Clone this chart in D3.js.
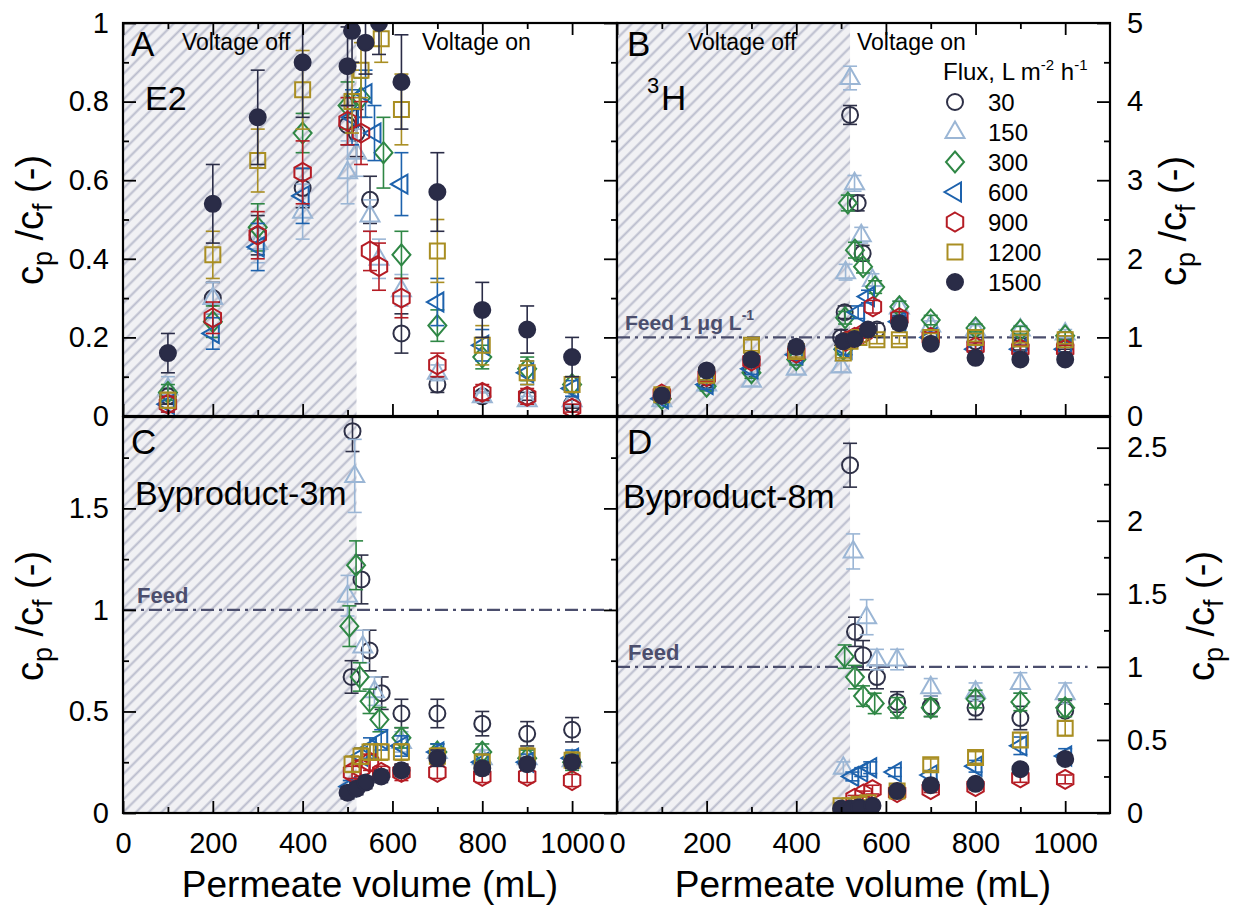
<!DOCTYPE html>
<html>
<head>
<meta charset="utf-8">
<script src="https://cdn.jsdelivr.net/npm/d3@7"></script>
<style>
body { margin: 0; background: #fff; }
text { font-family: "Liberation Sans", Arial, sans-serif; }
</style>
</head>
<body>
<div id="chart"></div>
<script>
// flux series, L m-2 h-1
var fluxLabels = ["30", "150", "300", "600", "900", "1200", "1500"];
var seriesColors = ["#2e3047", "#9bb6d5", "#2f8745", "#1d62ad", "#b51c24", "#a98e22", "#2a2c47"];
var seriesShapes = ["circle", "triangle", "diamond", "left", "hexagon", "square", "filled"];

// [permeate volume mL, cp/cf, error]
// A: E2
var a30 = [[100,0.05,0.02],[200,0.30,0.04],[300,0.46,0.05],[400,0.58,0.05],[500,0.74,0.05],[520,0.72,0.06],[550,0.55,0.06],[620,0.21,0.05],[700,0.08,0.02],[800,0.05,0.01],[900,0.05,0.01],[1000,0.03,0.01]];
var a150 = [[100,0.07,0.03],[200,0.30,0.04],[300,0.44,0.05],[400,0.52,0.07],[500,0.62,0.08],[520,0.67,0.06],[550,0.51,0.04],[570,0.40,0.05],[620,0.32,0.04],[700,0.11,0.02],[800,0.05,0.01],[900,0.04,0.01],[1000,0.04,0.01]];
var a300 = [[100,0.06,0.02],[200,0.24,0.04],[300,0.48,0.06],[400,0.72,0.05],[500,0.79,0.06],[530,0.81,0.05],[580,0.67,0.09],[620,0.41,0.06],[700,0.23,0.04],[800,0.15,0.03],[900,0.12,0.03],[1000,0.08,0.02]];
var a600 = [[100,0.03,0.02],[200,0.21,0.04],[300,0.43,0.06],[400,0.56,0.07],[510,0.76,0.07],[540,0.82,0.06],[560,0.72,0.07],[620,0.59,0.08],[700,0.29,0.06],[800,0.18,0.04],[900,0.11,0.03],[1000,0.07,0.02]];
var a900 = [[100,0.03,0.02],[200,0.25,0.04],[300,0.46,0.06],[400,0.62,0.08],[500,0.75,0.06],[530,0.72,0.08],[550,0.42,0.05],[570,0.38,0.06],[620,0.30,0.05],[700,0.13,0.03],[800,0.06,0.02],[900,0.05,0.02],[1000,0.02,0.01]];
var a1200 = [[100,0.04,0.02],[200,0.41,0.06],[300,0.65,0.08],[400,0.83,0.10],[510,0.80,0.08],[530,0.88,0.07],[575,0.96,0.06],[620,0.78,0.09],[700,0.42,0.08],[800,0.18,0.05],[900,0.11,0.03],[1000,0.08,0.02]];
var a1500 = [[100,0.16,0.05],[200,0.54,0.10],[300,0.76,0.12],[400,0.90,0.14],[500,0.89,0.10],[510,0.98,0.08],[540,0.95,0.08],[570,1.00,0.08],[620,0.85,0.12],[700,0.57,0.10],[800,0.27,0.07],[900,0.22,0.06],[1000,0.15,0.05]];

// B: 3H
var b30 = [[100,0.25,0.05],[200,0.45,0.06],[300,0.60,0.08],[400,0.75,0.08],[500,1.00,0.10],[508,1.32,0.08],[520,3.83,0.12],[537,2.71,0.10],[548,2.07,0.10],[580,1.10,0.08],[630,1.20,0.08],[700,1.00,0.06],[800,0.95,0.05],[900,0.90,0.06],[1000,0.90,0.05]];
var b150 = [[100,0.20,0.05],[200,0.40,0.06],[300,0.45,0.07],[400,0.60,0.07],[500,0.63,0.07],[510,1.83,0.10],[520,4.30,0.15],[530,2.96,0.10],[545,2.30,0.10],[570,1.73,0.08],[630,1.38,0.08],[700,1.15,0.06],[800,1.10,0.05],[900,1.10,0.05],[1000,1.05,0.05]];
var b300 = [[100,0.22,0.05],[200,0.38,0.06],[300,0.55,0.07],[400,0.72,0.07],[505,0.85,0.07],[509,1.25,0.08],[515,2.71,0.10],[531,2.11,0.10],[549,1.90,0.08],[576,1.64,0.08],[630,1.39,0.07],[700,1.22,0.06],[800,1.12,0.05],[900,1.09,0.05],[1000,1.02,0.05]];
var b600 = [[100,0.22,0.05],[200,0.40,0.06],[300,0.60,0.07],[400,0.78,0.07],[510,0.85,0.07],[538,1.32,0.08],[560,1.52,0.08],[630,1.20,0.07],[700,1.00,0.06],[800,0.85,0.05],[900,0.85,0.05],[1000,0.85,0.05]];
var b900 = [[100,0.28,0.05],[200,0.50,0.06],[300,0.70,0.07],[400,0.80,0.07],[510,0.95,0.07],[530,1.00,0.06],[550,1.05,0.06],[571,1.39,0.08],[630,1.25,0.08],[700,1.00,0.06],[800,0.88,0.05],[900,0.85,0.05],[1000,0.85,0.05]];
var b1200 = [[100,0.27,0.05],[200,0.52,0.06],[300,0.90,0.07],[400,0.82,0.07],[505,0.80,0.06],[520,0.95,0.06],[540,1.00,0.06],[580,0.97,0.05],[630,0.97,0.05],[700,1.00,0.05],[800,1.00,0.05],[900,0.98,0.05],[1000,0.97,0.05]];
var b1500 = [[100,0.26,0.05],[200,0.58,0.06],[300,0.72,0.07],[400,0.88,0.07],[505,0.95,0.07],[530,0.98,0.06],[560,1.10,0.06],[630,1.18,0.07],[700,0.92,0.06],[800,0.74,0.05],[900,0.72,0.05],[1000,0.72,0.05]];

// C: Byproduct-3m
var c30 = [[509,0.67,0.08],[511,1.88,0.10],[531,1.15,0.12],[549,0.80,0.10],[576,0.59,0.08],[620,0.49,0.07],[700,0.49,0.07],[800,0.44,0.06],[900,0.39,0.06],[1000,0.41,0.06]];
var c150 = [[500,1.07,0.10],[516,1.66,0.18],[534,0.82,0.08],[560,0.60,0.07],[620,0.35,0.05],[700,0.30,0.04],[800,0.27,0.04],[900,0.27,0.04],[1000,0.26,0.04]];
var c300 = [[504,0.92,0.10],[519,1.22,0.12],[527,0.67,0.07],[549,0.55,0.06],[571,0.46,0.06],[620,0.37,0.05],[700,0.30,0.04],[800,0.30,0.04],[900,0.27,0.04],[1000,0.25,0.04]];
var c600 = [[505,0.13,0.03],[530,0.28,0.04],[550,0.32,0.05],[575,0.36,0.05],[620,0.33,0.05],[700,0.30,0.04],[800,0.25,0.04],[900,0.25,0.04],[1000,0.27,0.04]];
var c900 = [[510,0.20,0.03],[530,0.22,0.04],[550,0.25,0.04],[575,0.20,0.03],[620,0.20,0.04],[700,0.20,0.03],[800,0.18,0.03],[900,0.18,0.03],[1000,0.16,0.03]];
var c1200 = [[510,0.24,0.04],[530,0.28,0.04],[550,0.30,0.04],[575,0.30,0.04],[620,0.30,0.04],[700,0.28,0.04],[800,0.25,0.04],[900,0.28,0.04],[1000,0.26,0.04]];
var c1500 = [[500,0.10,0.03],[520,0.12,0.03],[540,0.15,0.03],[575,0.18,0.03],[620,0.21,0.03],[700,0.27,0.04],[800,0.22,0.03],[900,0.24,0.03],[1000,0.25,0.03]];

// D: Byproduct-8m
var d30 = [[520,2.38,0.15],[531,1.24,0.10],[549,1.08,0.10],[580,0.93,0.08],[625,0.76,0.07],[700,0.73,0.07],[800,0.72,0.08],[900,0.65,0.08],[1000,0.70,0.07]];
var d150 = [[505,0.31,0.04],[527,1.79,0.12],[557,1.34,0.12],[580,1.05,0.07],[625,1.05,0.07],[700,0.86,0.06],[800,0.83,0.06],[900,0.89,0.07],[1000,0.82,0.07]];
var d300 = [[508,1.07,0.08],[531,0.93,0.08],[549,0.80,0.07],[575,0.75,0.07],[625,0.72,0.07],[700,0.72,0.06],[800,0.78,0.06],[900,0.76,0.06],[1000,0.72,0.06]];
var d600 = [[525,0.25,0.03],[545,0.28,0.03],[565,0.31,0.04],[620,0.28,0.03],[700,0.26,0.03],[800,0.32,0.04],[900,0.46,0.06],[1000,0.39,0.05]];
var d900 = [[530,0.10,0.02],[550,0.13,0.02],[570,0.16,0.03],[625,0.14,0.02],[700,0.16,0.02],[800,0.18,0.02],[900,0.24,0.03],[1000,0.23,0.03]];
var d1200 = [[500,0.05,0.02],[520,0.05,0.02],[540,0.06,0.02],[560,0.07,0.02],[625,0.15,0.02],[700,0.33,0.04],[800,0.38,0.04],[900,0.50,0.05],[1000,0.58,0.05]];
var d1500 = [[500,0.03,0.01],[520,0.03,0.01],[540,0.04,0.01],[570,0.05,0.01],[625,0.15,0.02],[700,0.19,0.02],[800,0.20,0.02],[900,0.30,0.03],[1000,0.37,0.03]];

// axes
var xDomain = [0, 1100];
var xMajor = [0, 200, 400, 600, 800, 1000];
var xMinor = [100, 300, 500, 700, 900];
var yTicksA = [0, 0.2, 0.4, 0.6, 0.8, 1];
var yMinorA = [0.1, 0.3, 0.5, 0.7, 0.9];
var yTicksB = [0, 1, 2, 3, 4, 5];
var yMinorB = [0.5, 1.5, 2.5, 3.5, 4.5];
var yTicksC = [0, 0.5, 1, 1.5];
var yMinorC = [0.25, 0.75, 1.25, 1.75];
var yTicksD = [0, 0.5, 1, 1.5, 2, 2.5];
var yMinorD = [0.25, 0.75, 1.25, 1.75, 2.25];
var voltageOff = 520;

var width = 1234, height = 911;
var svg = d3.select("#chart").append("svg")
    .attr("width", width)
    .attr("height", height);

var defs = svg.append("defs");
var pat = defs.append("pattern")
    .attr("id", "hatch")
    .attr("patternUnits", "userSpaceOnUse")
    .attr("width", 9).attr("height", 9)
    .attr("patternTransform", "rotate(45)");
pat.append("rect").attr("width", 9).attr("height", 9).attr("fill", "#f1f1f4");
pat.append("line").attr("x1", 4.5).attr("x2", 4.5).attr("y1", 0).attr("y2", 9)
    .attr("stroke", "#b9bccc").attr("stroke-width", 2);

function shapePath(s) {
    if (s === "circle" || s === "filled") return d3.symbol(d3.symbolCircle, 201)();
    if (s === "triangle") return "M0,-10.5L9.5,6L-9.5,6Z";
    if (s === "diamond") return "M0,-10.5L9,0L0,10.5L-9,0Z";
    if (s === "left") return "M-10.5,0L6,-9.5L6,9.5Z";
    if (s === "square") return "M-7.5,-7.5H7.5V7.5H-7.5Z";
    var pts = d3.range(6).map(function(k) {
        var a = (-90 + 60 * k) * Math.PI / 180;
        return [9.5 * Math.cos(a), 9.5 * Math.sin(a)];
    });
    return "M" + pts.join("L") + "Z";
}

var panels = [
    {id: "A", data: [a30, a150, a300, a600, a900, a1200, a1500], yDomain: [0, 1], major: yTicksA, minor: yMinorA, left: true, top: true, box: [123, 617, 23, 416]},
    {id: "B", data: [b30, b150, b300, b600, b900, b1200, b1500], yDomain: [0, 5], major: yTicksB, minor: yMinorB, left: false, top: true, box: [617, 1110, 23, 416], feed: [1, 1040]},
    {id: "C", data: [c30, c150, c300, c600, c900, c1200, c1500], yDomain: [0, 1.95], major: yTicksC, minor: yMinorC, left: true, top: false, box: [123, 617, 417, 813], feed: [1, 1100]},
    {id: "D", data: [d30, d150, d300, d600, d900, d1200, d1500], yDomain: [0, 2.71], major: yTicksD, minor: yMinorD, left: false, top: false, box: [617, 1110, 417, 813], feed: [1, 1050]}
];

function styleAxis(g) {
    g.select(".domain").remove();
    g.selectAll(".tick line").attr("stroke", "#000").attr("stroke-width", 1.8);
    g.selectAll(".tick text").attr("fill", "#000");
    g.attr("font-size", 29).attr("font-family", "Liberation Sans, Arial, sans-serif");
}

panels.forEach(function(p) {
    var b = p.box;
    var x = d3.scaleLinear().domain(xDomain).range([b[0], b[1]]);
    var y = d3.scaleLinear().domain(p.yDomain).range([b[3], b[2]]);
    var g = svg.append("g");

    defs.append("clipPath").attr("id", "clip" + p.id)
        .append("rect").attr("x", b[0]).attr("y", b[2]).attr("width", b[1] - b[0]).attr("height", b[3] - b[2]);

    // voltage off region
    g.append("rect")
        .attr("x", x(0)).attr("y", b[2])
        .attr("width", x(voltageOff) - x(0)).attr("height", b[3] - b[2])
        .attr("fill", "url(#hatch)");

    if (p.feed) {
        g.append("line")
            .attr("x1", x(0)).attr("x2", x(p.feed[1]))
            .attr("y1", y(p.feed[0])).attr("y2", y(p.feed[0]))
            .attr("stroke", "#4b4e6d").attr("stroke-width", 2.2)
            .attr("stroke-dasharray", "13,5,3,5");
    }

    var plot = g.append("g").attr("clip-path", "url(#clip" + p.id + ")");
    p.data.forEach(function(series, i) {
        var col = seriesColors[i];
        var sg = plot.append("g").attr("stroke", col);
        sg.selectAll(".eb").data(series).enter().append("line")
            .attr("x1", function(d) { return x(d[0]); })
            .attr("x2", function(d) { return x(d[0]); })
            .attr("y1", function(d) { return y(d[1] - d[2]); })
            .attr("y2", function(d) { return y(d[1] + d[2]); })
            .attr("stroke-width", 1.6);
        [-1, 1].forEach(function(sgn) {
            sg.selectAll(".cap" + sgn).data(series).enter().append("line")
                .attr("x1", function(d) { return x(d[0]) - 7; })
                .attr("x2", function(d) { return x(d[0]) + 7; })
                .attr("y1", function(d) { return y(d[1] + sgn * d[2]); })
                .attr("y2", function(d) { return y(d[1] + sgn * d[2]); })
                .attr("stroke-width", 1.6);
        });
        sg.selectAll(".mk").data(series).enter().append("path")
            .attr("transform", function(d) { return "translate(" + x(d[0]) + "," + y(d[1]) + ")"; })
            .attr("d", shapePath(seriesShapes[i]))
            .attr("fill", seriesShapes[i] === "filled" ? col : "none")
            .attr("stroke-width", 2);
    });

    // frame
    g.append("rect")
        .attr("x", b[0]).attr("y", b[2])
        .attr("width", b[1] - b[0]).attr("height", b[3] - b[2])
        .attr("fill", "none").attr("stroke", "#000").attr("stroke-width", 2.2);

    var fmt = d3.format("~g");
    // bottom
    g.append("g").attr("transform", "translate(0," + b[3] + ")")
        .call(d3.axisBottom(x).tickValues(xMajor).tickSize(-12).tickPadding(19).tickFormat(p.top ? "" : fmt))
        .call(styleAxis);
    g.append("g").attr("transform", "translate(0," + b[3] + ")")
        .call(d3.axisBottom(x).tickValues(xMinor).tickSize(-6).tickFormat(""))
        .call(styleAxis);
    if (p.top) {
        g.append("g").attr("transform", "translate(0," + b[2] + ")")
            .call(d3.axisTop(x).tickValues(xMajor).tickSize(-12).tickFormat(""))
            .call(styleAxis);
        g.append("g").attr("transform", "translate(0," + b[2] + ")")
            .call(d3.axisTop(x).tickValues(xMinor).tickSize(-6).tickFormat(""))
            .call(styleAxis);
    }
    if (p.left) {
        g.append("g").attr("transform", "translate(" + b[0] + ",0)")
            .call(d3.axisLeft(y).tickValues(p.major).tickSize(-13).tickPadding(14).tickFormat(fmt))
            .call(styleAxis);
        g.append("g").attr("transform", "translate(" + b[0] + ",0)")
            .call(d3.axisLeft(y).tickValues(p.minor).tickSize(-6).tickFormat(""))
            .call(styleAxis);
    }
    g.append("g").attr("transform", "translate(" + b[1] + ",0)")
        .call(d3.axisRight(y).tickValues(p.major).tickSize(-13).tickPadding(17).tickFormat(p.left ? "" : fmt))
        .call(styleAxis);
    g.append("g").attr("transform", "translate(" + b[1] + ",0)")
        .call(d3.axisRight(y).tickValues(p.minor).tickSize(-6).tickFormat(""))
        .call(styleAxis);
});

// annotations
function label(x, y, str, size, opts) {
    opts = opts || {};
    return svg.append("text").attr("x", x).attr("y", y)
        .attr("font-size", size)
        .attr("fill", opts.fill || "#000")
        .attr("font-weight", opts.bold ? "bold" : null)
        .attr("text-anchor", opts.anchor || "start")
        .text(str);
}
label(131, 56, "A", 35);
label(627, 56, "B", 35);
label(131, 454, "C", 35);
label(627, 454, "D", 35);
label(182, 50, "Voltage off", 23);
label(422, 50, "Voltage on", 23);
label(688, 50, "Voltage off", 23);
label(857, 50, "Voltage on", 23);
label(145, 110, "E2", 34);
label(647, 93, "3", 22);
label(661, 110, "H", 35);
label(135, 505, "Byproduct-3m", 34);
label(623, 508, "Byproduct-8m", 34);
label(137, 603, "Feed", 22, {bold: true, fill: "#4b4e6d"});
label(628, 660, "Feed", 22, {bold: true, fill: "#4b4e6d"});
var fb = label(625, 330, "Feed 1 \u03bcg L", 21, {bold: true, fill: "#4b4e6d"});
fb.append("tspan").attr("font-size", 14).attr("dy", -10).text("-1");

// legend
var lt = label(943, 80, "Flux, L m", 24);
lt.append("tspan").attr("font-size", 15).attr("dy", -10).text("-2");
lt.append("tspan").attr("font-size", 24).attr("dy", 10).text(" h");
lt.append("tspan").attr("font-size", 15).attr("dy", -10).text("-1");
var leg = svg.append("g");
fluxLabels.forEach(function(f, i) {
    var yy = 102 + 30 * i;
    leg.append("path")
        .attr("transform", "translate(955," + yy + ")")
        .attr("d", shapePath(seriesShapes[i]))
        .attr("fill", seriesShapes[i] === "filled" ? seriesColors[i] : "none")
        .attr("stroke", seriesColors[i]).attr("stroke-width", 2);
    label(988, yy + 9, f, 24);
});

// axis titles
function yTitle(x, y) {
    var t = svg.append("text")
        .attr("transform", "translate(" + x + "," + y + ") rotate(-90)")
        .attr("text-anchor", "middle").attr("font-size", 38);
    t.append("tspan").text("c");
    t.append("tspan").attr("font-size", 27).attr("dy", 9).text("p");
    t.append("tspan").attr("dy", -9).text(" /c");
    t.append("tspan").attr("font-size", 27).attr("dy", 9).text("f");
    t.append("tspan").attr("dy", -9).text(" (-)");
}
yTitle(43, 220);
yTitle(43, 616);
yTitle(1186, 221);
yTitle(1214, 616);
label(370, 897, "Permeate volume (mL)", 37, {anchor: "middle"});
label(863, 897, "Permeate volume (mL)", 37, {anchor: "middle"});
</script>
</body>
</html>
